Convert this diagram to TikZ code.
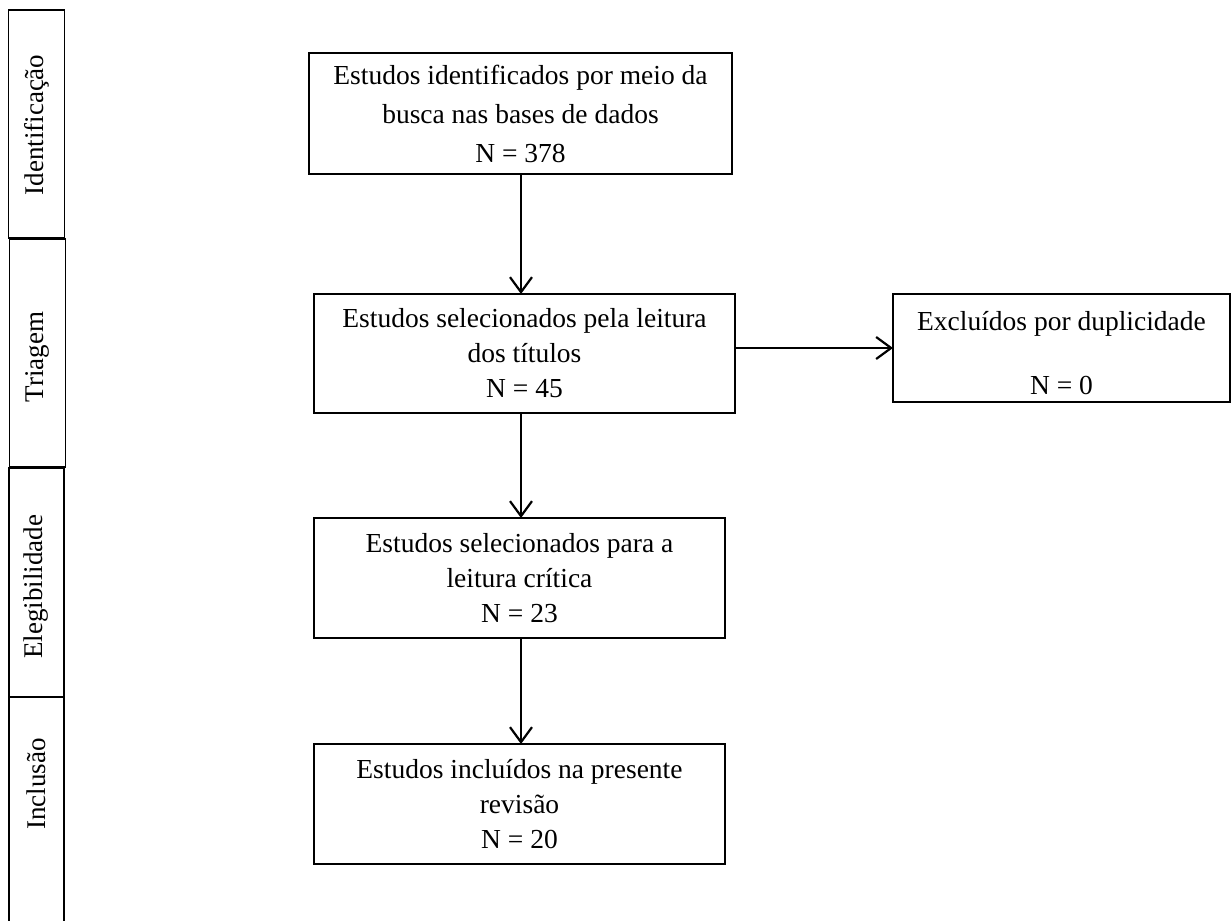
\documentclass[tikz,border=0pt]{standalone}
\usepackage{fontspec}
\setmainfont{Liberation Serif}
\usetikzlibrary{arrows.meta}
\begin{document}
\begin{tikzpicture}[x=1pt,y=-1pt,
  box/.style={draw, line width=1.4pt, inner sep=0pt, outer sep=0pt, align=center,
    font=\fontsize{27.5}{35}\selectfont},
  side/.style={draw, line width=1.4pt, inner sep=0pt, outer sep=0pt, minimum width=56pt},
  sidetext/.style={inner sep=0pt, rotate=90, font=\fontsize{27}{34}\selectfont},
  arr/.style={line width=2.2pt, -{Straight Barb[length=15pt,width=22pt]}},
  txt/.style={inner sep=0pt, anchor=base, font=\fontsize{27.5}{35}\selectfont}
]
\useasboundingbox (0,0) rectangle (1232,921);
% side bar
\node[side, minimum height=228pt] (s1) at (36.5,124) {};
\node[sidetext] (t1) at (36.5,125) {Identificação};
\node[side, minimum height=228pt] (s2) at (37.5,353) {};
\node[sidetext] (t2) at (37.5,357) {Triagem};
\node[side, minimum width=55pt, minimum height=229pt] (s3) at (36.5,582.5) {};
\node[sidetext] (t3) at (36.5,587) {Elegibilidade};
\node[side, minimum width=55pt, minimum height=260pt] (s4) at (36.5,827) {};
\node[sidetext] (t4) at (36.5,784) {Inclusão};
% main boxes
\node[box, minimum width=423pt, minimum height=121pt, font=\fontsize{27.5}{39}\selectfont] (A) at (520.5,113.5)
  {Estudos identificados por meio da\\busca nas bases de dados\\N = 378};
\node[box, minimum width=421pt, minimum height=119pt] (B) at (524.5,353.5)
  {Estudos selecionados pela leitura\\dos títulos\\N = 45};
\node[box, minimum width=337pt, minimum height=108pt] (C) at (1061.5,348) {};
\node[txt] (C1) at (1061.5,330) {Excluídos por duplicidade};
\node[txt] (C2) at (1061.5,394) {N = 0};
\node[box, minimum width=411pt, minimum height=120pt] (D) at (519.5,578)
  {Estudos selecionados para a\\leitura crítica\\N = 23};
\node[box, minimum width=411pt, minimum height=120pt] (E) at (519.5,804)
  {Estudos incluídos na presente\\revisão\\N = 20};
% arrows
\coordinate (ax) at (521,0);
\draw[arr] (A.south -| ax) -- (B.north -| ax);
\draw[arr] (B.south -| ax) -- (D.north -| ax);
\draw[arr] (D.south -| ax) -- (E.north -| ax);
\draw[arr] (C.west -| B.east) -- (C.west);
\end{tikzpicture}
\end{document}
